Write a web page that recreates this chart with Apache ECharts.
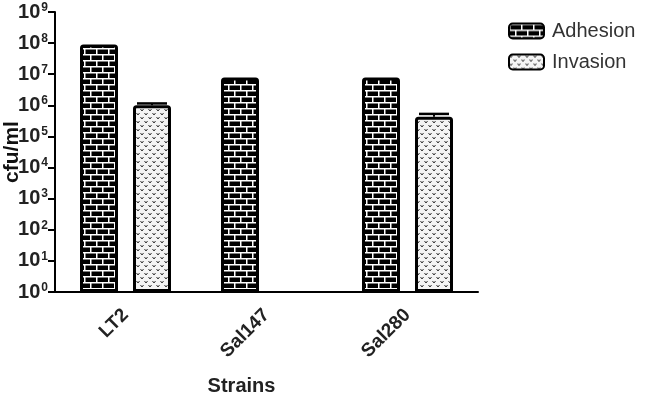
<!DOCTYPE html>
<html>
<head>
<meta charset="utf-8">
<script src="https://cdn.jsdelivr.net/npm/echarts@6/dist/echarts.min.js"></script>
<style>
  html, body { margin: 0; padding: 0; background: #fff; }
  #chart { width: 651px; height: 396px; }
</style>
</head>
<body>
<div id="chart"></div>
<script>
// data
const strains = ['LT2', 'Sal147', 'Sal280'];
const adhesion = [9e7, 7.9e6, 7.9e6];
const invasion = [1.0e6, null, 4.3e5];
const invasionErr = [1.15e6, null, 5.3e5];   // upper end of error bar
const yTicks = [0, 1, 2, 3, 4, 5, 6, 7, 8, 9]; // exponents

// brick pattern (black bricks, white mortar)
function brickPattern() {
  const c = document.createElement('canvas');
  c.width = 12; c.height = 12;
  const g = c.getContext('2d');
  g.fillStyle = '#000';
  g.fillRect(0, 0, 12, 12);
  g.fillStyle = '#fff';
  g.fillRect(0, 0, 12, 1.5);
  g.fillRect(0, 6, 12, 1.5);
  g.fillRect(0, 0, 1.5, 6);
  g.fillRect(6, 6, 1.5, 6);
  return c;
}

// dotted "v" pattern
function dotPattern() {
  const c = document.createElement('canvas');
  c.width = 8; c.height = 8;
  const g = c.getContext('2d');
  g.fillStyle = '#f4f4f4';
  g.fillRect(0, 0, 8, 8);
  g.strokeStyle = '#333';
  g.lineWidth = 1;
  function v(x, y) {
    g.beginPath();
    g.moveTo(x - 1.5, y - 1);
    g.lineTo(x, y + 1);
    g.lineTo(x + 1.5, y - 1);
    g.stroke();
  }
  v(2, 2);
  v(6, 6);
  return c;
}

const chart = echarts.init(document.getElementById('chart'));

const barW = 38;
const gap = 15;
const font = 'Liberation Sans, Arial';

const option = {
  backgroundColor: '#fff',
  animation: false,
  grid: { left: 55, right: 173, top: 12, bottom: 104, containLabel: false, outerBoundsMode: 'none' },
  legend: {
    orient: 'vertical',
    left: 503,
    top: 16,
    itemWidth: 35,
    itemHeight: 15,
    itemGap: 11,
    textStyle: { fontSize: 20, color: '#333', fontFamily: font, padding: [0, 0, 0, 3] },
    data: ['Adhesion', 'Invasion']
  },
  xAxis: {
    type: 'category',
    data: strains,
    name: 'Strains',
    nameLocation: 'middle',
    nameGap: 84,
    nameMoveOverlap: false,
    nameTextStyle: { fontSize: 20, fontWeight: 'bold', color: '#222', fontFamily: font, padding: [0, 50, 0, 0] },
    axisLine: { lineStyle: { color: '#000', width: 2 } },
    axisTick: { alignWithLabel: true, length: 8, lineStyle: { color: '#000', width: 2 } },
    axisLabel: { rotate: 45, margin: 20, fontSize: 19, fontWeight: 'bold', color: '#222', fontFamily: font }
  },
  yAxis: {
    type: 'log',
    logBase: 10,
    min: Math.pow(10, yTicks[0]),
    max: Math.pow(10, yTicks[yTicks.length - 1]),
    interval: 1,
    name: 'cfu/ml',
    nameLocation: 'middle',
    nameGap: 32,
    nameMoveOverlap: false,
    nameTextStyle: { fontSize: 21, fontWeight: 'bold', color: '#111', fontFamily: font },
    splitLine: { show: false },
    axisLine: { show: true, lineStyle: { color: '#000', width: 2 } },
    axisTick: { show: true, length: 7, lineStyle: { color: '#000', width: 2 } },
    axisLabel: {
      margin: 7,
      formatter: function (v) {
        return '10{s|' + Math.round(Math.log10(v)) + '}';
      },
      fontSize: 20,
      fontWeight: 'bold',
      color: '#222',
      fontFamily: font,
      rich: {
        s: { fontSize: 12, fontWeight: 'bold', color: '#222', verticalAlign: 'top', padding: [0, 0, 9, 1], fontFamily: font }
      }
    }
  },
  series: [
    {
      name: 'Adhesion',
      type: 'bar',
      barWidth: barW,
      barGap: (gap / barW * 100) + '%',
      itemStyle: {
        color: { image: brickPattern(), repeat: 'repeat' },
        borderColor: '#000',
        borderWidth: 3,
        borderRadius: [2, 2, 0, 0]
      },
      data: adhesion
    },
    {
      name: 'Invasion',
      type: 'bar',
      barWidth: barW,
      itemStyle: {
        color: { image: dotPattern(), repeat: 'repeat' },
        borderColor: '#000',
        borderWidth: 3,
        borderRadius: [2, 2, 0, 0]
      },
      data: invasion.map(v => v === null ? '-' : v)
    },
    {
      name: 'err',
      type: 'custom',
      z: 5,
      data: invasion.map((v, i) => v === null ? null : [i, v, invasionErr[i]]).filter(d => d),
      renderItem: function (params, api) {
        const lo = api.coord([api.value(0), api.value(1)]);
        const hi = api.coord([api.value(0), api.value(2)]);
        const x = lo[0] + (barW + gap) / 2;
        return {
          type: 'group',
          children: [
            { type: 'line', shape: { x1: x, y1: lo[1], x2: x, y2: hi[1] }, style: { stroke: '#000', lineWidth: 2 } },
            { type: 'line', shape: { x1: x - 15, y1: hi[1], x2: x + 15, y2: hi[1] }, style: { stroke: '#000', lineWidth: 2.5 } }
          ]
        };
      }
    }
  ]
};

chart.setOption(option);
</script>
</body>
</html>
